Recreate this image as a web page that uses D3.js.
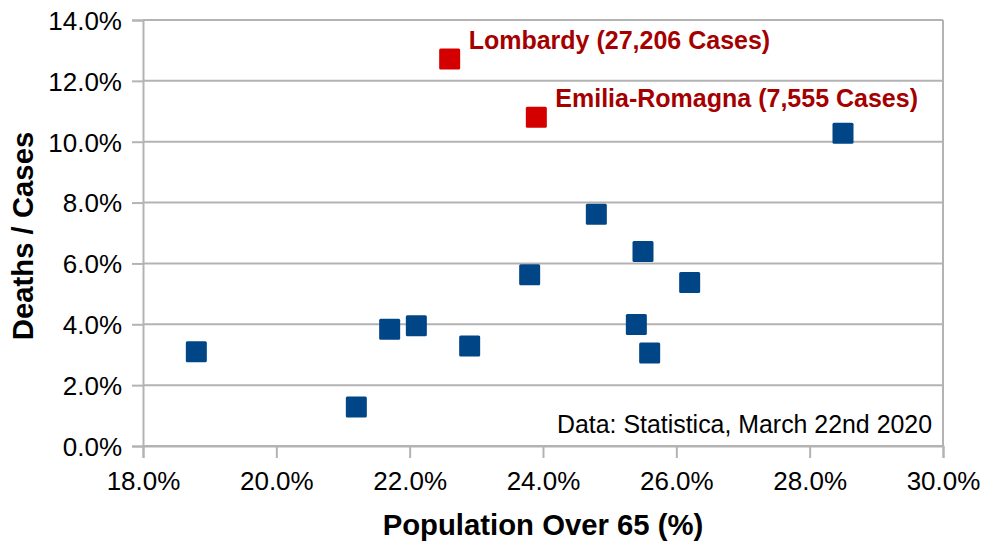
<!DOCTYPE html>
<html>
<head>
<meta charset="utf-8">
<script src="https://cdn.jsdelivr.net/npm/d3@7"></script>
<style>
  body { margin: 0; background: #fff; }
  text { font-family: "Liberation Sans", Arial, sans-serif; }
</style>
</head>
<body>
<svg id="chart" width="991" height="559"></svg>
<script>
// regions: population over 65 (%) vs deaths / cases (%)
var popOver65 = [18.8, 21.2, 21.7, 22.1, 22.9, 23.8, 24.8, 25.5, 25.4, 25.6, 26.2, 28.5];
var deathRate = [3.1, 1.28, 3.84, 3.95, 3.29, 5.63, 7.62, 6.39, 3.99, 3.06, 5.37, 10.28];

var hotNames = ["Lombardy (27,206 Cases)", "Emilia-Romagna (7,555 Cases)"];
var hotPop = [22.6, 23.9];
var hotRate = [12.72, 10.8];

var xTicks = [18, 20, 22, 24, 26, 28, 30];
var yTicks = [0, 2, 4, 6, 8, 10, 12, 14];

var margin = { top: 20, left: 143, right: 48, bottom: 113 };
var svg = d3.select('#chart');
var width = 991 - margin.left - margin.right;
var height = 559 - margin.top - margin.bottom;
var gridColor = '#b3b3b3';

var x = d3.scaleLinear().domain([18, 30]).range([0, width]);
var y = d3.scaleLinear().domain([0, 14]).range([height, 0]);

var g = svg.append('g')
    .attr('transform', 'translate(' + margin.left + ',' + margin.top + ')');

// horizontal grid lines
g.selectAll('.grid')
    .data(yTicks)
    .enter()
    .append('line')
    .attr('x1', 0)
    .attr('x2', width)
    .attr('y1', function (d) { return y(d); })
    .attr('y2', function (d) { return y(d); })
    .attr('stroke', gridColor)
    .attr('stroke-width', 2);

// right border
g.append('line')
    .attr('x1', width).attr('x2', width)
    .attr('y1', 0).attr('y2', height)
    .attr('stroke', gridColor).attr('stroke-width', 2);

var fmt = function (d) { return d.toFixed(1) + '%'; };

var xAxis = g.append('g')
    .attr('transform', 'translate(0,' + height + ')')
    .call(d3.axisBottom(x).tickValues(xTicks).tickFormat(fmt).tickSize(12).tickPadding(14));

var yAxis = g.append('g')
    .call(d3.axisLeft(y).tickValues(yTicks).tickFormat(fmt).tickSize(11).tickPadding(10));

[xAxis, yAxis].forEach(function (ax) {
    ax.select('.domain').attr('stroke', gridColor).attr('stroke-width', 2);
    ax.selectAll('.tick line').attr('stroke', gridColor).attr('stroke-width', 2);
    ax.selectAll('.tick text')
        .attr('fill', '#000')
        .style('font-size', '26px')
        .style('font-family', '"Liberation Sans", Arial, sans-serif');
});
yAxis.selectAll('.tick text').attr('dy', '0.36em');

var size = 21;

g.selectAll('.pt')
    .data(popOver65)
    .enter()
    .append('rect')
    .attr('x', function (d) { return x(d) - size / 2; })
    .attr('y', function (d, i) { return y(deathRate[i]) - size / 2; })
    .attr('width', size)
    .attr('height', size)
    .attr('rx', 1.5)
    .attr('fill', '#004586');

g.selectAll('.hot')
    .data(hotPop)
    .enter()
    .append('rect')
    .attr('x', function (d) { return x(d) - size / 2; })
    .attr('y', function (d, i) { return y(hotRate[i]) - size / 2; })
    .attr('width', size)
    .attr('height', size)
    .attr('rx', 1.5)
    .attr('fill', '#d40000');

g.selectAll('.hotLabel')
    .data(hotPop)
    .enter()
    .append('text')
    .attr('x', function (d) { return x(d) + 19; })
    .attr('y', function (d, i) { return y(hotRate[i]) - 10; })
    .attr('fill', '#a50000')
    .style('font-size', '25px')
    .style('font-weight', 'bold')
    .text(function (d, i) { return hotNames[i]; });

// source note
g.append('text')
    .attr('x', width - 11)
    .attr('y', height - 13)
    .attr('text-anchor', 'end')
    .attr('fill', '#000')
    .style('font-size', '24.9px')
    .text('Data: Statistica, March 22nd 2020');

// axis titles
svg.append('text')
    .attr('x', margin.left + width / 2)
    .attr('y', 535)
    .attr('text-anchor', 'middle')
    .style('font-size', '29.3px')
    .style('font-weight', 'bold')
    .text('Population Over 65 (%)');

svg.append('text')
    .attr('transform', 'translate(33,' + (margin.top + height / 2 + 3) + ') rotate(-90)')
    .attr('text-anchor', 'middle')
    .style('font-size', '29.3px')
    .style('font-weight', 'bold')
    .text('Deaths / Cases');
</script>
</body>
</html>
